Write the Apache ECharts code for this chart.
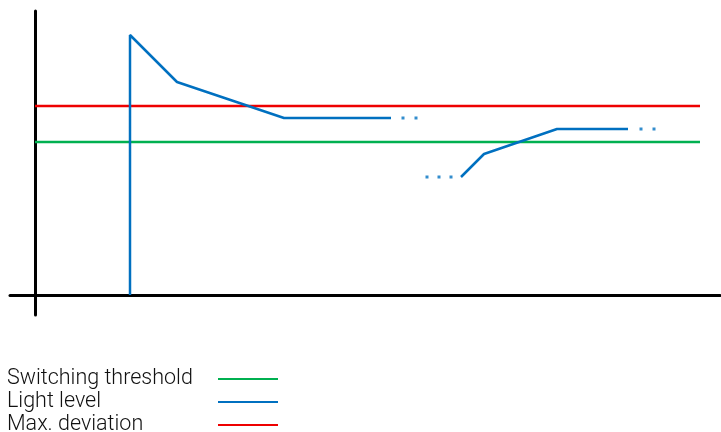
<!DOCTYPE html>
<html>
<head>
<meta charset="utf-8">
<script src="https://cdn.jsdelivr.net/npm/echarts@6/dist/echarts.min.js"></script>
<style>html,body{margin:0;padding:0;background:#fff}#c{width:721px;height:432px}</style>
</head>
<body>
<div id="c"></div>
<script>
// Series names (legend order)
var seriesNames = ['Switching threshold', 'Light level', 'Max. deviation'];
// Constant levels (arbitrary units)
var thresholdLevel = 153;
var deviationLevel = 189;
var levelLineX = [0, 665];
// Light level curve: two solid segments separated by a gap
var lightLevel = [
  [95, 0], [95, 260], [142, 213], [249, 177], [356, 177],
  null,
  [426, 118], [449, 141], [522, 166], [593, 166]
];
// Continuation dots ("...")
var lightDots = [
  [368, 177], [381, 177],
  [392, 118], [404, 118], [416, 118],
  [606, 166], [619, 166]
];
var colors = { threshold: '#00b050', light: '#0070c0', deviation: '#ee0000' };

var chart = echarts.init(document.getElementById('c'));
chart.setOption({
  animation: false,
  grid: { left: 10, right: 1, top: 11, bottom: 117 },
  xAxis: {
    type: 'value', min: -25, max: 685,
    axisLine: { onZero: true, lineStyle: { color: '#000', width: 3 } },
    axisTick: { show: false }, axisLabel: { show: false }, splitLine: { show: false }
  },
  yAxis: {
    type: 'value', min: -20, max: 284,
    axisLine: { show: true, onZero: true, lineStyle: { color: '#000', width: 3 } },
    axisTick: { show: false }, axisLabel: { show: false }, splitLine: { show: false }
  },
  legend: {
    orient: 'vertical', left: 7, top: 368, height: 120, align: 'right', padding: 0,
    itemWidth: 60, itemHeight: 2, itemGap: 1, icon: 'rect',
    data: seriesNames,
    formatter: function (n) { return '{a|' + n + '}'; },
    textStyle: {
      rich: { a: { width: 206, height: 18, lineHeight: 18, fontSize: 21.5, align: 'left',
        fontFamily: 'Roboto', fontWeight: 300, color: '#111' } }
    }
  },
  series: [
    {
      name: seriesNames[0], type: 'line', symbol: 'none', z: 2,
      color: colors.threshold, lineStyle: { width: 2.5, color: colors.threshold },
      data: levelLineX.map(function (x) { return [x, thresholdLevel]; })
    },
    {
      name: seriesNames[1], type: 'line', symbol: 'none', z: 4, connectNulls: false,
      color: colors.light, lineStyle: { width: 2.5, color: colors.light },
      data: lightLevel.map(function (p) { return p === null ? '-' : p; })
    },
    {
      name: seriesNames[2], type: 'line', symbol: 'none', z: 2,
      color: colors.deviation, lineStyle: { width: 2.5, color: colors.deviation },
      data: levelLineX.map(function (x) { return [x, deviationLevel]; })
    },
    {
      name: 'dots', type: 'scatter', symbol: 'rect', symbolSize: 3, z: 4,
      itemStyle: { color: colors.light }, data: lightDots
    }
  ]
});
</script>
</body>
</html>
